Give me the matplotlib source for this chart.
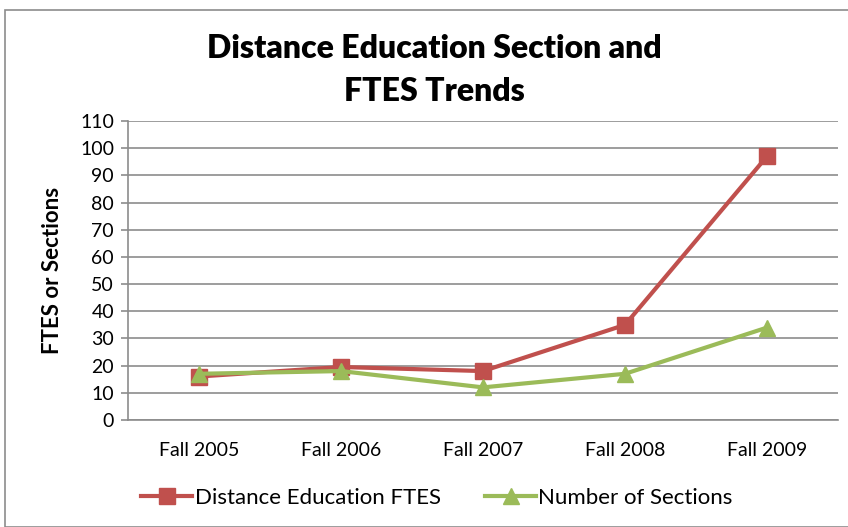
import matplotlib
matplotlib.use("Agg")
import matplotlib.pyplot as plt
from matplotlib.patches import Rectangle

categories = ["Fall 2005", "Fall 2006", "Fall 2007", "Fall 2008", "Fall 2009"]
ftes = [16, 19.5, 18, 35, 97]
sections = [17, 18, 12, 17, 34]
yticks = list(range(0, 111, 10))

plt.rcParams['font.family'] = ['Lato', 'DejaVu Sans']

fig = plt.figure(figsize=(8.48, 5.27), dpi=100)
fig.patches.append(Rectangle((5/848, 0), 1.2, 1 - 10/527, transform=fig.transFigure,
                             fill=False, edgecolor='#8c8c8c', linewidth=1.2))
ax = fig.add_axes([128/848, 1 - 420/527, 710/848, 299/527])

x = list(range(len(categories)))
ax.plot(x, ftes, color='#c0504d', linewidth=3, marker='s', markersize=11,
        label='Distance Education FTES')
ax.plot(x, sections, color='#9bbb59', linewidth=3, marker='^', markersize=12,
        label='Number of Sections')

ax.set_xlim(-0.5, len(categories) - 0.5)
ax.set_ylim(0, 110)
ax.set_yticks(yticks)
ax.set_xticks(x)
ax.set_xticklabels(categories, fontsize=14)
ax.tick_params(axis='y', labelsize=14, length=5, color='#8c8c8c', width=1.2, pad=5)
ax.tick_params(axis='x', length=0, pad=16)
ax.grid(axis='y', color='#8c8c8c', linewidth=1.2)
ax.set_axisbelow(True)
for s in ['top', 'right']:
    ax.spines[s].set_visible(False)
for s in ['left', 'bottom']:
    ax.spines[s].set_color('#8c8c8c')
    ax.spines[s].set_linewidth(1.2)

ax.set_ylabel('FTES or Sections', fontsize=16, fontweight='bold', labelpad=12)
fig.text(434/848, 1 - 70/527, 'Distance Education Section and\nFTES Trends',
         ha='center', va='center', fontsize=23, fontweight='heavy', linespacing=1.55)

fig.legend(loc='center', bbox_to_anchor=(437/848, 1 - 498/527), ncol=2, frameon=False,
           fontsize=16, handlelength=2.3, handletextpad=0.1, columnspacing=2.0)

fig.savefig('out.png', dpi=100)
